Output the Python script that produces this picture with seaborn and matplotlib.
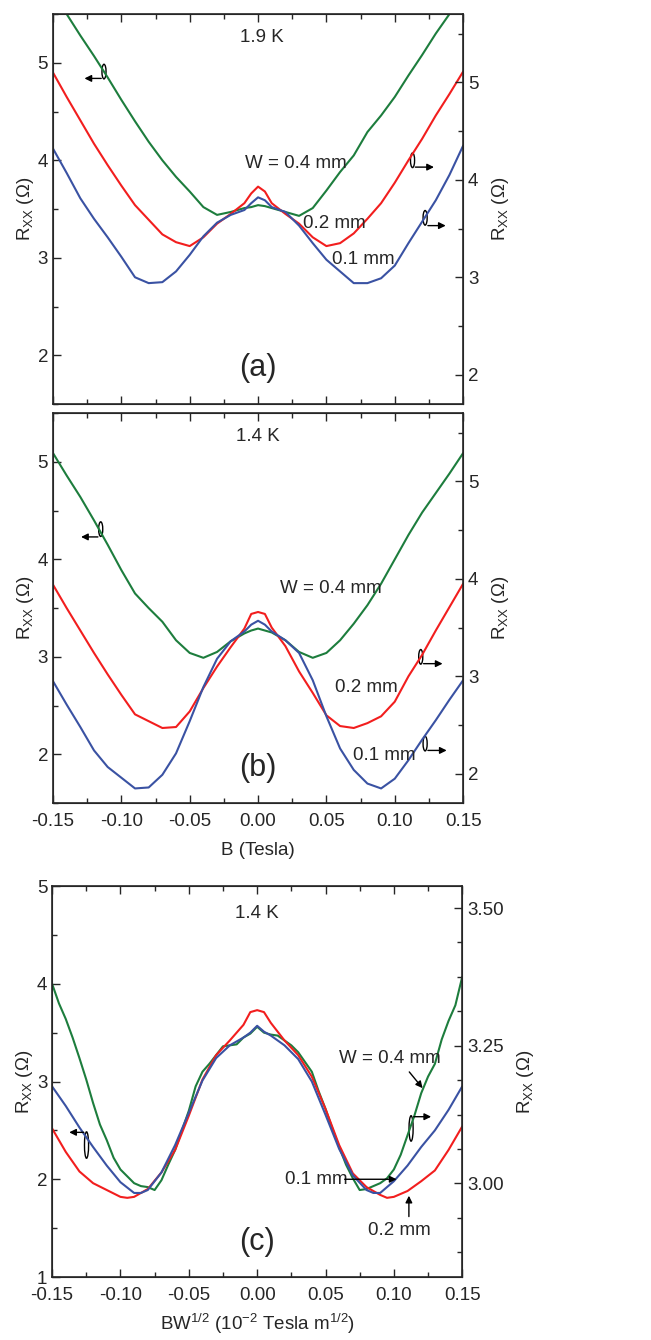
import numpy as np
import pandas as pd
import seaborn as sns
import matplotlib.pyplot as plt
from matplotlib.patches import Ellipse
from matplotlib.ticker import MultipleLocator

sns.set_style('ticks')
plt.rcParams['font.family'] = ['Liberation Sans', 'DejaVu Sans']
plt.rcParams['mathtext.fontset'] = 'custom'
plt.rcParams['mathtext.rm'] = 'Liberation Sans'
plt.rcParams['mathtext.it'] = 'Liberation Sans'

green = '#1d7d3d'
red = '#f21e1e'
blue = '#3a52a3'

# ---- panel (a), 1.9 K ----
xa = [-0.15, -0.14, -0.13, -0.12, -0.11, -0.10, -0.09, -0.08, -0.07, -0.06, -0.05, -0.04,
      -0.03, -0.02, -0.01, -0.005, 0.0, 0.005, 0.01, 0.02, 0.03, 0.04, 0.05, 0.06, 0.07,
      0.08, 0.09, 0.10, 0.11, 0.12, 0.13, 0.14, 0.15]
a_green = [5.71, 5.50, 5.28, 5.07, 4.85, 4.62, 4.40, 4.19, 4.00, 3.83, 3.68, 3.52,
           3.44, 3.47, 3.51, 3.52, 3.54, 3.53, 3.51, 3.47, 3.43, 3.51, 3.69, 3.88, 4.05,
           4.29, 4.46, 4.65, 4.87, 5.08, 5.30, 5.50, 5.70]
a_red = [4.90, 4.65, 4.41, 4.17, 3.95, 3.74, 3.54, 3.39, 3.24, 3.16, 3.12, 3.21,
         3.35, 3.45, 3.56, 3.66, 3.73, 3.68, 3.56, 3.45, 3.35, 3.21, 3.12, 3.15, 3.25,
         3.40, 3.56, 3.77, 4.00, 4.22, 4.46, 4.68, 4.91]
a_blue = [4.12, 3.87, 3.61, 3.40, 3.21, 3.01, 2.80, 2.74, 2.75, 2.86, 3.03, 3.22,
          3.36, 3.44, 3.49, 3.56, 3.62, 3.59, 3.52, 3.47, 3.33, 3.15, 2.98, 2.86, 2.74,
          2.74, 2.79, 2.92, 3.15, 3.37, 3.59, 3.85, 4.15]

# ---- panel (b), 1.4 K ----
xb = [-0.15, -0.14, -0.13, -0.12, -0.11, -0.10, -0.09, -0.08, -0.07, -0.06, -0.05, -0.04,
      -0.03, -0.02, -0.01, -0.005, 0.0, 0.005, 0.01, 0.02, 0.03, 0.04, 0.05, 0.06, 0.07,
      0.08, 0.09, 0.10, 0.11, 0.12, 0.13, 0.14, 0.15]
b_green = [5.09, 4.86, 4.64, 4.40, 4.15, 3.89, 3.65, 3.50, 3.36, 3.17, 3.04, 2.99,
           3.05, 3.16, 3.24, 3.27, 3.29, 3.27, 3.25, 3.17, 3.05, 2.99, 3.04, 3.17, 3.34,
           3.53, 3.75, 4.00, 4.25, 4.48, 4.68, 4.88, 5.09]
b_red = [3.74, 3.50, 3.27, 3.04, 2.82, 2.61, 2.41, 2.34, 2.27, 2.28, 2.44, 2.68,
         2.90, 3.10, 3.29, 3.44, 3.46, 3.44, 3.30, 3.11, 2.85, 2.63, 2.40, 2.29, 2.27,
         2.32, 2.39, 2.54, 2.80, 3.02, 3.27, 3.51, 3.75]
b_blue = [2.75, 2.51, 2.28, 2.04, 1.87, 1.76, 1.65, 1.66, 1.79, 2.01, 2.34, 2.69,
          2.98, 3.16, 3.26, 3.33, 3.37, 3.33, 3.26, 3.17, 3.04, 2.76, 2.39, 2.06, 1.84,
          1.70, 1.65, 1.75, 1.94, 2.15, 2.35, 2.56, 2.76]

# ---- panel (c), scaled field ----
xc_green = [-0.15, -0.145, -0.14, -0.135, -0.13, -0.125, -0.12, -0.115, -0.11, -0.105, -0.10,
            -0.095, -0.09, -0.085, -0.08, -0.075, -0.07, -0.065, -0.06, -0.055, -0.05, -0.045,
            -0.04, -0.035, -0.03, -0.025, -0.02, -0.015, -0.01, -0.005, 0.0, 0.005, 0.01,
            0.015, 0.02, 0.025, 0.03, 0.035, 0.04, 0.045, 0.05, 0.055, 0.06, 0.065, 0.07,
            0.075, 0.08, 0.085, 0.09, 0.095, 0.10, 0.105, 0.11, 0.115, 0.12, 0.125, 0.13,
            0.135, 0.14, 0.145, 0.15]
c_green = [4.00, 3.80, 3.64, 3.45, 3.24, 3.02, 2.78, 2.56, 2.40, 2.22, 2.10,
           2.03, 1.96, 1.93, 1.92, 1.89, 1.99, 2.15, 2.30, 2.50, 2.70, 2.95,
           3.10, 3.18, 3.27, 3.36, 3.37, 3.38, 3.45, 3.49, 3.56, 3.50, 3.48,
           3.47, 3.42, 3.37, 3.30, 3.20, 3.10, 2.90, 2.72, 2.52, 2.33, 2.15, 2.01,
           1.89, 1.90, 1.93, 1.96, 2.01, 2.10, 2.25, 2.45, 2.65, 2.88, 3.05, 3.18,
           3.43, 3.62, 3.78, 4.07]
xc_red = [-0.15, -0.14, -0.13, -0.12, -0.11, -0.10, -0.095, -0.09, -0.08, -0.07, -0.06, -0.05,
          -0.04, -0.03, -0.02, -0.01, -0.005, 0.0, 0.005, 0.01, 0.02, 0.03, 0.04, 0.05,
          0.06, 0.07, 0.08, 0.09, 0.095, 0.10, 0.11, 0.12, 0.13, 0.14, 0.15]
c_red = [2.52, 2.28, 2.08, 1.96, 1.89, 1.82, 1.81, 1.82, 1.90, 2.07, 2.30, 2.65,
         3.02, 3.27, 3.42, 3.58, 3.71, 3.73, 3.71, 3.60, 3.42, 3.27, 3.05, 2.72,
         2.35, 2.06, 1.92, 1.84, 1.81, 1.82, 1.88, 1.98, 2.09, 2.30, 2.54]
xc_blue = [-0.15, -0.14, -0.13, -0.12, -0.11, -0.10, -0.09, -0.085, -0.08, -0.07, -0.06, -0.05,
           -0.04, -0.03, -0.02, -0.01, -0.005, 0.0, 0.005, 0.01, 0.02, 0.03, 0.04, 0.05,
           0.06, 0.07, 0.08, 0.085, 0.09, 0.10, 0.11, 0.12, 0.13, 0.14, 0.15]
c_blue = [2.95, 2.75, 2.53, 2.33, 2.14, 1.97, 1.86, 1.86, 1.89, 2.07, 2.35, 2.68,
          3.01, 3.24, 3.37, 3.45, 3.50, 3.57, 3.51, 3.47, 3.37, 3.23, 3.00, 2.66,
          2.31, 2.04, 1.89, 1.86, 1.86, 1.98, 2.14, 2.33, 2.50, 2.71, 2.95]

fig = plt.figure(figsize=(6.51, 13.4), dpi=100)
ax_a = fig.add_axes([0.0814, 0.6985, 0.630, 0.2910])
ax_b = fig.add_axes([0.0814, 0.4007, 0.630, 0.2910])
ax_c = fig.add_axes([0.0800, 0.0470, 0.630, 0.2918])

fs = 13.5
ylab = r'R$_{\mathrm{XX}}$ ($\Omega$)'


def draw(ax, x, y, c):
    sns.lineplot(x=x, y=y, ax=ax, color=c, lw=1.5, estimator=None, sort=False)


def style(ax, ylim, rlim, rmaj, rmin, rfmt, xlabels=True):
    ax.set_xlim(-0.15, 0.15)
    ax.set_ylim(*ylim)
    ax.xaxis.set_major_locator(MultipleLocator(0.05))
    ax.xaxis.set_minor_locator(MultipleLocator(0.025))
    ax.yaxis.set_major_locator(MultipleLocator(1))
    ax.yaxis.set_minor_locator(MultipleLocator(0.5))
    ax.tick_params(which='both', direction='in', top=True, right=False, labelsize=fs)
    ax.tick_params(which='major', length=6, width=1)
    ax.tick_params(which='minor', length=3.5, width=1)
    ax.tick_params(axis='x', pad=7)
    if xlabels:
        ax.xaxis.set_major_formatter(lambda v, p: f'{v:.2f}')
    else:
        ax.set_xticklabels([])
    ax.set_ylabel(ylab, fontsize=fs, labelpad=1)
    for s in ax.spines.values():
        s.set_linewidth(1.2)
    r = ax.twinx()
    r.set_ylim(*rlim)
    r.yaxis.set_major_locator(MultipleLocator(rmaj))
    r.yaxis.set_minor_locator(MultipleLocator(rmin))
    r.yaxis.set_major_formatter(lambda v, p: rfmt.format(v))
    r.tick_params(which='both', direction='in', labelsize=fs)
    r.tick_params(which='major', length=6, width=1)
    r.tick_params(which='minor', length=3.5, width=1)
    r.set_ylabel(ylab, fontsize=fs, labelpad=8)
    return r


def pointer(ax, ex, ey, h, x0, x1, ay):
    ax.add_patch(Ellipse((ex, ey), 0.003, h, fill=False, lw=1, ec='black'))
    ax.annotate('', xy=(x1, ay), xytext=(x0, ay),
                arrowprops=dict(arrowstyle='-|>', lw=1, color='black', mutation_scale=10))


# panel (a)
draw(ax_a, xa, a_green, green)
draw(ax_a, xa, a_red, red)
draw(ax_a, xa, a_blue, blue)
style(ax_a, (1.5, 5.5), (1.7, 5.7), 1, 0.5, '{:.0f}', xlabels=False)
ax_a.set_xlabel('')
ax_a.text(0.003, 5.26, '1.9 K', ha='center', va='center', fontsize=fs)
ax_a.text(0.028, 3.97, 'W = 0.4 mm', ha='center', va='center', fontsize=fs)
ax_a.text(0.056, 3.35, '0.2 mm', ha='center', va='center', fontsize=fs)
ax_a.text(0.0767, 2.98, '0.1 mm', ha='center', va='center', fontsize=fs)
ax_a.text(0.0, 1.87, '(a)', ha='center', va='center', fontsize=22)
pointer(ax_a, -0.1127, 4.91, 0.15, -0.1127, -0.129, 4.84)
pointer(ax_a, 0.113, 4.0, 0.15, 0.113, 0.1307, 3.93)
pointer(ax_a, 0.1222, 3.41, 0.15, 0.1222, 0.1393, 3.33)

# panel (b)
draw(ax_b, xb, b_green, green)
draw(ax_b, xb, b_red, red)
draw(ax_b, xb, b_blue, blue)
style(ax_b, (1.5, 5.5), (1.7, 5.7), 1, 0.5, '{:.0f}')
ax_b.set_xlabel('B (Tesla)', fontsize=fs, labelpad=9)
ax_b.text(0.0, 5.26, '1.4 K', ha='center', va='center', fontsize=fs)
ax_b.text(0.0534, 3.70, 'W = 0.4 mm', ha='center', va='center', fontsize=fs)
ax_b.text(0.079, 2.69, '0.2 mm', ha='center', va='center', fontsize=fs)
ax_b.text(0.0922, 1.99, '0.1 mm', ha='center', va='center', fontsize=fs)
ax_b.text(0.0, 1.86, '(b)', ha='center', va='center', fontsize=22)
pointer(ax_b, -0.1151, 4.31, 0.15, -0.1151, -0.1315, 4.23)
pointer(ax_b, 0.119, 3.00, 0.15, 0.119, 0.137, 2.93)
pointer(ax_b, 0.1222, 2.11, 0.15, 0.1222, 0.140, 2.04)

# panel (c)
draw(ax_c, xc_green, c_green, green)
draw(ax_c, xc_red, c_red, red)
draw(ax_c, xc_blue, c_blue, blue)
style(ax_c, (1.0, 5.0), (2.83, 3.54), 0.25, 0.0625, '{:.2f}')
ax_c.set_xlabel(r'BW$^{1/2}$ (10$^{-2}$ Tesla m$^{1/2}$)', fontsize=fs, labelpad=6)
ax_c.text(0.0, 4.72, '1.4 K', ha='center', va='center', fontsize=fs)
ax_c.text(0.097, 3.24, 'W = 0.4 mm', ha='center', va='center', fontsize=fs)
ax_c.text(0.043, 2.00, '0.1 mm', ha='center', va='center', fontsize=fs)
ax_c.text(0.104, 1.48, '0.2 mm', ha='center', va='center', fontsize=fs)
ax_c.text(0.0, 1.36, '(c)', ha='center', va='center', fontsize=22)
ax_c.annotate('', xy=(0.1223, 2.91), xytext=(0.110, 3.12),
              arrowprops=dict(arrowstyle='-|>', lw=1, color='black', mutation_scale=10))
ax_c.annotate('', xy=(0.104, 2.00), xytext=(0.062, 2.00),
              arrowprops=dict(arrowstyle='-|>', lw=1, color='black', mutation_scale=10))
ax_c.annotate('', xy=(0.111, 1.86), xytext=(0.111, 1.59),
              arrowprops=dict(arrowstyle='-|>', lw=1, color='black', mutation_scale=10))
pointer(ax_c, -0.1248, 2.35, 0.27, -0.1248, -0.1395, 2.48)
pointer(ax_c, 0.1126, 2.52, 0.26, 0.1126, 0.1293, 2.64)

fig.savefig('out.png', dpi=100)
